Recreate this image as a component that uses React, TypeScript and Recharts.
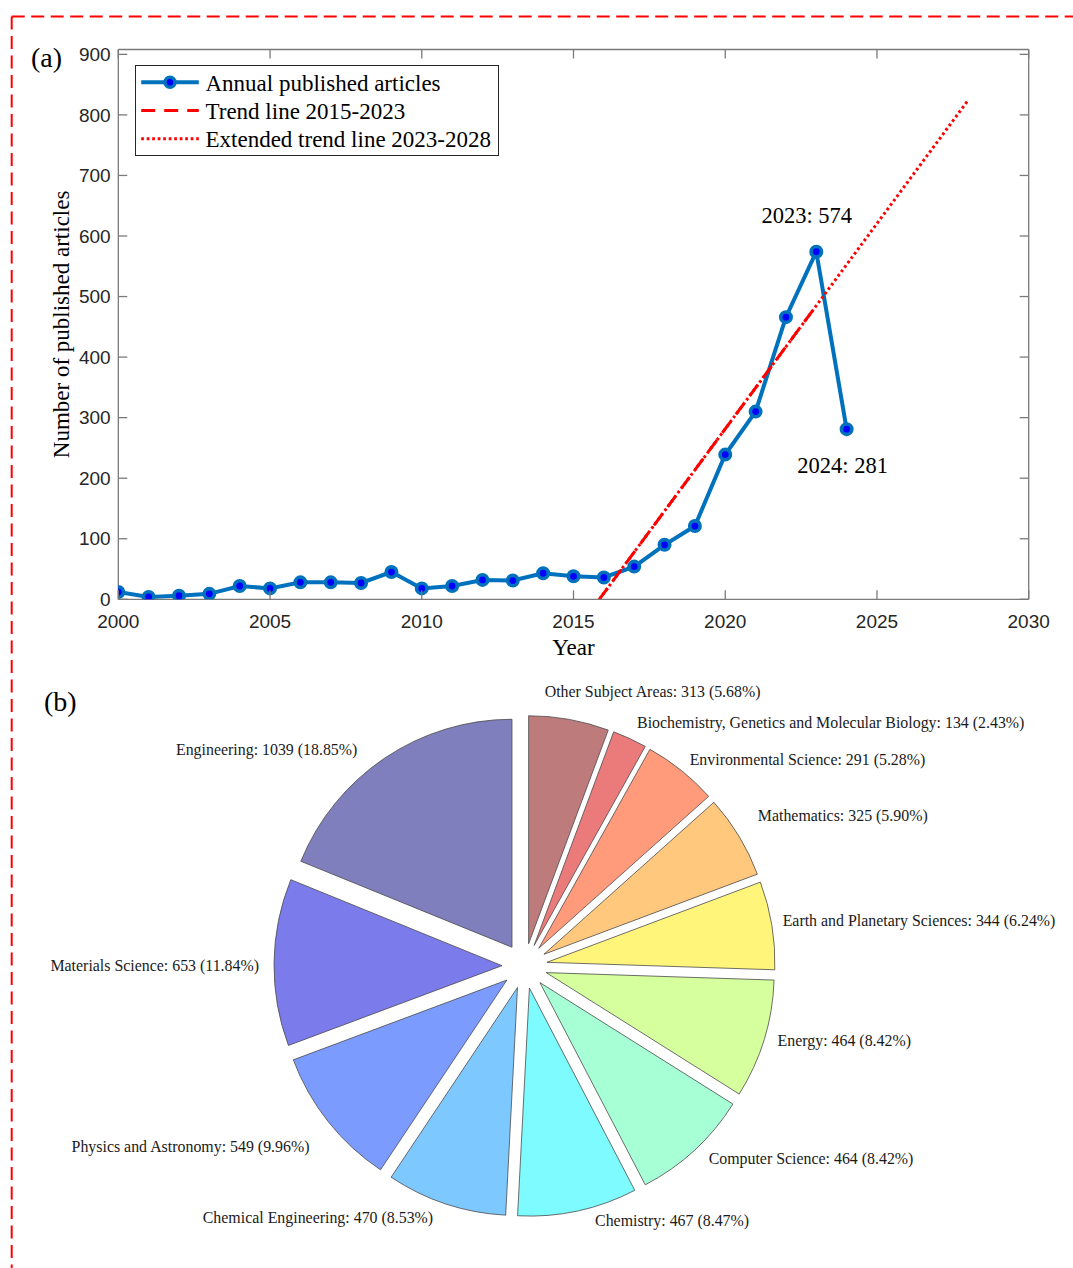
import React from 'react';
import { LineChart, Line, XAxis, YAxis, Legend, LabelList, PieChart, Pie, Sector } from 'recharts';

// panel (a): yearly article counts
const YEARS = [2000, 2001, 2002, 2003, 2004, 2005, 2006, 2007, 2008, 2009, 2010, 2011, 2012,
  2013, 2014, 2015, 2016, 2017, 2018, 2019, 2020, 2021, 2022, 2023, 2024];
const ARTICLES = [12, 4, 6, 9, 22, 18, 28, 28, 27, 45, 18, 22, 32, 31, 43, 38, 36, 54, 90, 121,
  239, 310, 466, 574, 281];
const TREND_YEARS = [2015.85, 2023];
const TREND_VALUES = [0, 485];
const EXTENDED_YEARS = [2015.85, 2028];
const EXTENDED_VALUES = [0, 824];
const ANNOTATED_YEARS = [2023, 2024];
const X_TICKS = [2000, 2005, 2010, 2015, 2020, 2025, 2030];
const Y_TICKS = [0, 100, 200, 300, 400, 500, 600, 700, 800, 900];
const Y_MAX = 908;

// panel (b): subject areas
const SUBJECTS = ['Other Subject Areas', 'Biochemistry, Genetics and Molecular Biology',
  'Environmental Science', 'Mathematics', 'Earth and Planetary Sciences', 'Energy',
  'Computer Science', 'Chemistry', 'Chemical Engineering', 'Physics and Astronomy',
  'Materials Science', 'Engineering'];
const COUNTS = [313, 134, 291, 325, 344, 464, 464, 467, 470, 549, 653, 1039];

const PIE_COLORS = ['#BD7B7B', '#EB7B7B', '#FF9B7B', '#FFC87D', '#FFF57B', '#D6FF9E',
  '#A6FFD5', '#7DFBFF', '#7DC8FF', '#7B9BFF', '#7B7BEB', '#7F7FBE'];
// small hand nudges for label placement [dx, dy]
const LABEL_NUDGE = [[-27, -13], [1, -2], [-1, 1], [6, -13], [-4, -2], [-1, -3], [4, -3],
  [14, -5], [-8, -1], [-7, 15], [0, 3], [-19, 4]];

const SERIF = "'Liberation Serif', 'Times New Roman', serif";
const SANS = "'Liberation Sans', Arial, sans-serif";
const AXIS_GRAY = '#7a7a7a';
const TICK_TEXT = '#262626';
const TICK_LEN = 9;
const LINE_BLUE = '#0072BD';
const RED = '#ff0000';
const DASH = '14 9';
const DOT = '2.7 2.8';

const EXPLODE = 22.6;
const LABEL_GAP = 15;

const articleData = YEARS.map((year, i) => ({ year, count: ARTICLES[i] }));
const trendData = TREND_YEARS.map((year, i) => ({ year, value: TREND_VALUES[i] }));
const extendedData = EXTENDED_YEARS.map((year, i) => ({ year, value: EXTENDED_VALUES[i] }));
const subjectData = SUBJECTS.map((name, i) => ({ name, value: COUNTS[i] }));
const TOTAL = COUNTS.reduce((a, b) => a + b, 0);

// ticks point inward like the matlab box
const BottomTick = (p: any) => {
  const axisY = p.y - 15;
  return (
    <g>
      <line x1={p.x} x2={p.x} y1={axisY} y2={axisY - TICK_LEN} stroke={AXIS_GRAY} strokeWidth={1.3} />
      <text x={p.x} y={p.y} dy="0.71em" textAnchor="middle" fontFamily={SANS} fontSize={19} fill={TICK_TEXT}>
        {p.payload.value}
      </text>
    </g>
  );
};

const LeftTick = (p: any) => {
  const axisX = p.x + 7.6;
  return (
    <g>
      <line x1={axisX} x2={axisX + TICK_LEN} y1={p.y} y2={p.y} stroke={AXIS_GRAY} strokeWidth={1.3} />
      <text x={p.x} y={p.y} dy="0.355em" textAnchor="end" fontFamily={SANS} fontSize={19} fill={TICK_TEXT}>
        {p.payload.value}
      </text>
    </g>
  );
};

const TopTick = (p: any) => (
  <line x1={p.x} x2={p.x} y1={p.y} y2={p.y + TICK_LEN} stroke={AXIS_GRAY} strokeWidth={1.3} />
);

const RightTick = (p: any) => (
  <line x1={p.x} x2={p.x - TICK_LEN} y1={p.y} y2={p.y} stroke={AXIS_GRAY} strokeWidth={1.3} />
);

const YTitle = (p: any) => {
  const vb = p.viewBox || { x: 0, y: 0, width: 0, height: 0 };
  const x = vb.x + 62;
  const y = vb.y + vb.height / 2;
  return (
    <text x={x} y={y} transform={`rotate(-90, ${x}, ${y})`} textAnchor="middle" dominantBaseline="central"
      fontFamily={SERIF} fontSize={23} fill="#000">
      Number of published articles
    </text>
  );
};

const XTitle = (p: any) => {
  const vb = p.viewBox || { x: 0, y: 0, width: 0, height: 0 };
  return (
    <text x={vb.x + vb.width / 2} y={vb.y + 56} textAnchor="middle" fontFamily={SERIF} fontSize={23} fill="#000">
      Year
    </text>
  );
};

const renderAnnotation = (p: any) => {
  const idx = p.index;
  const year = YEARS[idx];
  const k = ANNOTATED_YEARS.indexOf(year);
  if (k < 0) return null;
  const x = p.x ?? p.viewBox?.x;
  const y = p.y ?? p.viewBox?.y;
  const above = k === 0;
  return (
    <text key={`ann-${year}`} x={x + (above ? -9.5 : -4)} y={y + (above ? -29 : 43.5)} textAnchor="middle"
      fontFamily={SERIF} fontSize={22.5} fill="#000">
      {`${year}: ${ARTICLES[idx]}`}
    </text>
  );
};

const LegendBox = () => {
  const rows = [17.2, 45.5, 73.8];
  return (
    <svg width={364} height={91} style={{ display: 'block' }}>
      <rect x={0.5} y={0.5} width={363} height={90} fill="#fff" stroke="#262626" strokeWidth={1} />
      <line x1={6.2} x2={63.8} y1={rows[0]} y2={rows[0]} stroke={LINE_BLUE} strokeWidth={4} />
      <circle cx={35} cy={rows[0]} r={5} fill="#0000ff" stroke={LINE_BLUE} strokeWidth={3.5} />
      <line x1={6.2} x2={63.8} y1={rows[1]} y2={rows[1]} stroke={RED} strokeWidth={3} strokeDasharray={DASH} />
      <line x1={6.2} x2={63.8} y1={rows[2]} y2={rows[2]} stroke={RED} strokeWidth={3} strokeDasharray={DOT} />
      {['Annual published articles', 'Trend line 2015-2023', 'Extended trend line 2023-2028'].map((t, i) => (
        <text key={t} x={70.5} y={rows[i] + 1} dominantBaseline="central" fontFamily={SERIF} fontSize={23} fill="#000">
          {t}
        </text>
      ))}
    </svg>
  );
};

// pie labels: draws the exploded wedge and its text
const renderSlice = (p: any) => {
  const i = p.index;
  const mid = (p.startAngle + p.endAngle) / 2;
  const rad = (-mid * Math.PI) / 180;
  const cos = Math.cos(rad);
  const sin = Math.sin(rad);
  const ox = p.cx + EXPLODE * cos;
  const oy = p.cy + EXPLODE * sin;
  const lr = p.outerRadius + EXPLODE + LABEL_GAP;
  const lx = p.cx + lr * cos + LABEL_NUDGE[i][0];
  const ly = p.cy + lr * sin + LABEL_NUDGE[i][1];
  const pct = ((COUNTS[i] / TOTAL) * 100).toFixed(2);
  return (
    <g key={`slice-${i}`}>
      <Sector cx={ox} cy={oy} innerRadius={0} outerRadius={p.outerRadius} startAngle={p.startAngle}
        endAngle={p.endAngle} fill={PIE_COLORS[i]} stroke="#4a4a4a" strokeWidth={0.8} />
      <text x={lx} y={ly} textAnchor={cos >= 0 ? 'start' : 'end'} dominantBaseline="central"
        fontFamily={SERIF} fontSize={15.9} fill="#1a1a1a">
        {`${SUBJECTS[i]}: ${COUNTS[i]} (${pct}%)`}
      </text>
    </g>
  );
};

export default function App() {
  return (
    <div style={{ position: 'absolute', left: 0, top: 0, width: 1073, height: 1268, background: '#fff', overflow: 'hidden' }}>
      <svg width={1073} height={1268} style={{ position: 'absolute', left: 0, top: 0 }}>
        <line x1={11.7} y1={16.5} x2={1073} y2={16.5} stroke={RED} strokeWidth={2} strokeDasharray="13 6.5" />
        <line x1={11.7} y1={16.5} x2={11.7} y2={1268} stroke={RED} strokeWidth={2} strokeDasharray="13 6.5" />
        <text x={31} y={67} fontFamily={SERIF} fontSize={28} fill="#000">(a)</text>
        <text x={44} y={711} fontFamily={SERIF} fontSize={28} fill="#000">(b)</text>
      </svg>

      <div style={{ position: 'absolute', left: 0, top: 0 }}>
        <LineChart width={1073} height={680} margin={{ top: 48.5, right: 43.3, bottom: 0, left: 0 }}>
          <XAxis dataKey="year" type="number" domain={[2000, 2030]} ticks={X_TICKS} interval={0}
            allowDataOverflow height={80.7} tickSize={0} tickMargin={15} tickLine={false} tick={BottomTick}
            axisLine={{ stroke: AXIS_GRAY, strokeWidth: 1.3 }} label={<XTitle />} />
          <XAxis xAxisId="top" orientation="top" dataKey="year" type="number" domain={[2000, 2030]}
            ticks={X_TICKS} interval={0} allowDataOverflow height={1} tickSize={0} tickMargin={0}
            tickLine={false} tick={TopTick} axisLine={{ stroke: AXIS_GRAY, strokeWidth: 1.3 }} />
          <YAxis type="number" domain={[0, Y_MAX]} ticks={Y_TICKS} interval={0} allowDataOverflow
            width={118.3} tickSize={0} tickMargin={7.6} tickLine={false} tick={LeftTick}
            axisLine={{ stroke: AXIS_GRAY, strokeWidth: 1.3 }} label={<YTitle />} />
          <YAxis yAxisId="right" orientation="right" type="number" domain={[0, Y_MAX]} ticks={Y_TICKS}
            interval={0} allowDataOverflow width={1} tickSize={0} tickMargin={0} tickLine={false}
            tick={RightTick} axisLine={{ stroke: AXIS_GRAY, strokeWidth: 1.3 }} />
          <Line data={articleData} dataKey="count" stroke={LINE_BLUE} strokeWidth={4}
            dot={{ r: 5.2, fill: '#0000ff', stroke: LINE_BLUE, strokeWidth: 3.6 }} activeDot={false}
            isAnimationActive={false}>
            <LabelList dataKey="count" content={renderAnnotation} />
          </Line>
          <Line data={trendData} dataKey="value" stroke={RED} strokeWidth={3} strokeDasharray={DASH}
            dot={false} activeDot={false} isAnimationActive={false} />
          <Line data={extendedData} dataKey="value" stroke={RED} strokeWidth={3} strokeDasharray={DOT}
            dot={false} activeDot={false} isAnimationActive={false} />
          <Legend layout="horizontal" verticalAlign="middle" align="center" content={<LegendBox />}
            wrapperStyle={{ left: 134.5, top: 64.5, width: 364, height: 91, lineHeight: 0 }} />
        </LineChart>
      </div>

      <div style={{ position: 'absolute', left: 0, top: 660 }}>
        <PieChart width={1073} height={608} margin={{ top: 0, right: 0, bottom: 0, left: 0 }}>
          <Pie data={subjectData} dataKey="value" nameKey="name" cx={524.6} cy={306} innerRadius={0}
            outerRadius={228} startAngle={90} endAngle={-270} fill="transparent" stroke="none"
            label={renderSlice} labelLine={false} isAnimationActive={false} />
        </PieChart>
      </div>
    </div>
  );
}
